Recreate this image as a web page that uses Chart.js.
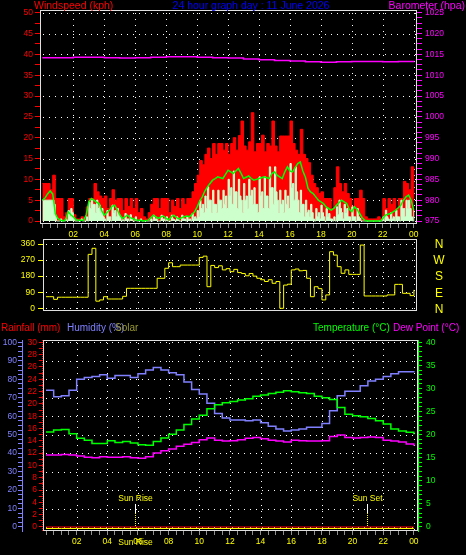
<!DOCTYPE html>
<html>
<head>
<meta charset="utf-8">
<title>24 hour graph</title>
<script src="https://cdn.jsdelivr.net/npm/chart.js@4"></script>
<style>
  html, body { margin: 0; padding: 0; background: #000; }
  body { width: 466px; height: 555px; position: relative; overflow: hidden; }
  canvas { position: absolute; left: 0; }
</style>
</head>
<body>
<canvas id="wind" width="466" height="240" style="top:0"></canvas>
<canvas id="dir" width="466" height="82" style="top:236px"></canvas>
<canvas id="thermo" width="466" height="239" style="top:316px"></canvas>
<script>
  "use strict";

  // hours shown on the time axis
  var hourTicks = [2, 4, 6, 8, 10, 12, 14, 16, 18, 20, 22, 24];
  var hourLabels = ['02', '04', '06', '08', '10', '12', '14', '16', '18', '20', '22', '00'];

  // wind gust, one reading every 10 minutes (kph)
  var windGust = [
    9, 9, 9, 7.5, 11, 5.4, 5.4, 5.4, 1, 2, 5.4, 5.4,
    1.5, 0.5, 0.5, 1, 0.5, 3.4, 5.4, 5.4, 9, 7, 6, 5.4,
    6, 3, 5.4, 7.5, 5, 5.4, 5.4, 2.5, 5.4, 3.5, 5.4, 3,
    5.4, 2, 3, 1, 0.5, 2, 4, 5.4, 5.4, 3, 5.4, 5.4,
    5.4, 2, 5, 3.5, 5.4, 3, 5.4, 4, 5.4, 5.4, 7, 9,
    11, 14.5, 13.5, 16, 17.5, 15, 18.6, 16, 18.6, 18.6, 17, 18.6,
    16, 18.6, 20, 17, 20.5, 24, 18, 17, 19, 26, 16.6, 18.6,
    18.6, 20.6, 16.6, 18.6, 18, 24, 18, 16.6, 20.4, 20.4, 20.4, 20.4,
    24, 18.6, 17, 16, 22, 16, 15, 14, 11, 9, 8, 6.6,
    7, 5.4, 5.4, 5.4, 3, 8, 13, 9, 7, 9, 6.6, 5.4,
    3.5, 5.4, 5.4, 7.4, 5.4, 1, 0.5, 0.5, 0.5, 0.5, 1, 0.5,
    5.4, 3, 5.4, 4, 5.4, 3, 5.4, 5.4, 9.5, 9, 7.5, 13,
    5.4
  ];
  // wind speed, one reading every 5 minutes (kph)
  var windSpeed = [
    5, 5, 5, 5, 5, 5, 5, 5, 5, 4, 1, 0,
    0, 0, 0.5, 0, 0, 0, 0.5, 0, 2.5, 1, 3, 2,
    0.5, 0, 0, 0, 0, 0, 0.5, 0, 0, 0, 1, 0,
    4.5, 3, 5, 4, 4, 2, 5, 3, 3.8, 2, 3, 1,
    0.5, 0, 2.5, 1, 1, 0, 3.8, 2, 2.5, 1, 3, 1.5,
    1, 0, 0.3, 0, 1.8, 0.5, 0.5, 0, 1.5, 0.5, 0, 0,
    1, 0, 0, 0, 0.5, 0, 0, 0, 0, 0, 0, 0,
    0.5, 0, 1.4, 0.5, 0.5, 0, 0, 0, 1.4, 0.5, 0.5, 0,
    1, 0, 0, 0, 1.4, 0.5, 0.3, 0, 1, 0.3, 0, 0,
    1.4, 0.5, 0.5, 0, 1, 0.3, 0.5, 0, 1.8, 0.5, 1, 0.5,
    2.5, 1, 5, 3, 4, 2, 6, 3, 8.2, 5, 5, 2,
    7.4, 4, 4, 2, 7.4, 5, 5, 3, 7.4, 4, 6, 3,
    10, 6, 8, 4, 12, 7, 7, 3, 10, 6, 5, 2,
    9, 5, 6, 3, 10, 6, 7.4, 4, 8, 4, 4, 2,
    10.6, 6, 7, 3, 10.6, 6, 6, 3, 13, 8, 8, 4,
    13, 7, 5, 2, 7.4, 4, 5, 2, 7.4, 4, 6, 3,
    13.8, 8, 9, 5, 13, 7, 5, 2, 7.4, 4, 4, 1,
    5, 2, 2.6, 1, 4, 2, 0.5, 0, 3, 1, 2, 0.5,
    3.8, 2, 1, 0, 3, 1, 1.8, 0.5, 0.5, 0, 1, 0,
    3.4, 1.5, 5, 3, 2, 0.5, 4, 2, 3, 1, 1, 0,
    3.4, 1, 1, 0, 3, 1, 0.6, 0, 0, 0, 0, 0,
    0, 0, 0, 0, 0, 0, 0, 0, 0, 0, 0, 0,
    1, 0, 2.6, 1, 0.5, 0, 2, 0.5, 1, 0, 2.6, 1,
    1, 0, 5, 3, 3, 1, 5, 3, 5, 3, 1, 0,
    2.6
  ];
  // 10 minute average, one reading every 10 minutes (kph)
  var windTenMin = [
    5, 5.5, 6.5, 7.2, 6.5, 1.8, 0.6, 0.2, 0, 0.3, 2.2, 1.5,
    1, 0.3, 0.2, 0.2, 0.2, 1.5, 4.6, 5.4, 5, 4.5, 4.2, 2.5,
    1.4, 2, 2.6, 3.5, 3.8, 2.8, 1.5, 0.6, 1, 1.4, 0.8, 0.6,
    0.3, 0.2, 0.2, 0, 0.1, 0.2, 0.8, 1.4, 1, 0.6, 1, 1.2,
    0.6, 0.3, 1, 1.4, 0.8, 0.5, 0.8, 1, 1.2, 1, 1.6, 2.2,
    3.4, 4.8, 5.8, 7.2, 8.2, 9, 9.8, 10.2, 10.6, 10.4, 10.2, 11.2,
    12.2, 11.8, 11.4, 12, 12.6, 11.5, 10.2, 10.5, 10.8, 10.2, 9.8, 10,
    10.2, 10.4, 10.6, 10.4, 10.2, 11.4, 11.8, 11, 10.6, 10.2, 11.8, 13,
    12, 11.8, 12.8, 13.8, 14.2, 12, 10.5, 7.8, 7, 6.6, 5.8, 5,
    4.6, 4.2, 3.4, 3, 2.6, 3, 3.8, 4.4, 5, 4.6, 4.2, 2.8,
    2.2, 3.4, 2.8, 1.8, 0.8, 0.2, 0, 0, 0, 0, 0, 0,
    0.6, 1.4, 1.6, 1.8, 2.2, 2.6, 3.2, 3.8, 5, 5.8, 6.2, 5,
    2.6
  ];
  // barometer, hourly (hPa)
  var barometer = [
    1014.2, 1014.2, 1014.3, 1014.3, 1014.2, 1014.1, 1014.2, 1014.3, 1014.4, 1014.4,
    1014.3, 1014.2, 1014.1, 1013.9, 1013.7, 1013.5, 1013.4, 1013.2, 1013.1, 1013.2,
    1013.3, 1013.3, 1013.2, 1013.3, 1013.1
  ];

  // wind direction, one reading every 15 minutes (degrees)
  var windDir = [
    65, 65, 50, 62, 62, 62, 62, 62,
    62, 62, 62, 302, 336, 40, 47, 65,
    52, 52, 52, 52, 67, 112, 112, 112,
    112, 112, 112, 112, 112, 168, 168, 224,
    255, 233, 233, 242, 242, 242, 242, 242,
    285, 292, 121, 240, 228, 238, 215, 222,
    205, 218, 200, 195, 182, 195, 180, 168,
    160, 150, 160, 140, 150, 0, 130, 135,
    215, 220, 210, 212, 168, 65, 121, 110,
    47, 75, 317, 298, 233, 196, 215, 190,
    190, 190, 354, 69, 69, 69, 69, 69,
    69, 75, 75, 134, 134, 84, 84, 71,
    103
  ];
  var dirTicks = [0, 90, 180, 270, 360];
  var dirLetters = ['N', 'E', 'S', 'W', 'N'];

  // half hourly readings
  var humidity = [
    74, 70.5, 71, 74, 80, 81, 81.5, 82.5,
    80.5, 82, 82, 81, 83, 85, 86.3, 85,
    83.5, 82.5, 78.5, 74.5, 72, 67, 61.5, 59,
    58, 58, 57.5, 58, 56.5, 54.5, 53, 52,
    52.5, 53, 54, 54, 56, 63, 71, 73.5,
    73.5, 76.5, 79, 80, 81.5, 83, 84, 84,
    84.5
  ];
  var temperature = [
    20.6, 21, 21.1, 20.2, 19.2, 18.8, 18.1, 18.1,
    18.7, 18.3, 18.5, 18.2, 17.8, 17.7, 18.5, 19.3,
    20.1, 21, 22.2, 23.4, 24.2, 25.6, 26.5, 26.9,
    27.2, 27.5, 27.8, 28.3, 28.6, 28.9, 29.2, 29.5,
    29.3, 29.1, 28.9, 28.3, 28, 27.6, 25.9, 24.4,
    24.1, 23.9, 23.5, 23, 22.3, 21.2, 20.8, 20.5,
    20.1
  ];
  var dewPoint = [
    15.6, 15.6, 15.7, 15.6, 15.4, 15.1, 15.0, 15.2,
    15.1, 15.1, 15.2, 15.0, 14.9, 15.2, 16.0, 16.5,
    16.9, 17.5, 17.9, 18.3, 18.9, 19.3, 18.8, 18.6,
    18.7, 18.9, 19.2, 19.4, 19.1, 18.8, 18.6, 18.4,
    18.8, 18.7, 18.6, 18.6, 18.7, 19.6, 19.9, 19.4,
    19.3, 19.4, 19.5, 19.4, 18.8, 18.6, 18.4, 18.0,
    17.6
  ];
  // hourly
  var rainfall = [0, 0, 0, 0, 0, 0, 0, 0, 0, 0, 0, 0, 0, 0, 0, 0, 0, 0, 0, 0, 0, 0, 0, 0, 0];
  var solar = [0, 0, 0, 0, 0, 0, 0, 0, 0, 0, 0, 0, 0, 0, 0, 0, 0, 0, 0, 0, 0, 0, 0, 0, 0];

  var windTicks = [0, 5, 10, 15, 20, 25, 30, 35, 40, 45, 50];
  var baroTicks = [975, 980, 985, 990, 995, 1000, 1005, 1010, 1015, 1020, 1025];
  var humTicks = [0, 10, 20, 30, 40, 50, 60, 70, 80, 90, 100];
  var rainTicks = [0, 2, 4, 6, 8, 10, 12, 14, 16, 18, 20, 22, 24, 26, 28, 30];
  var tempTicks = [0, 5, 10, 15, 20, 25, 30, 35, 40];

  var sunTimes = [5.8, 20.92];
  var sunLabels = ['Sun Rise', 'Sun Set'];

  Chart.defaults.font.family = 'Liberation Sans';
  var tickFont = { family: 'Liberation Sans', size: 8.5 };

  var series = function(values, step) {
    return values.map(function(v, i) { return { x: i * step, y: v }; });
  };

  var withMinor = function(majors, parts) {
    var out = [];
    majors.forEach(function(m, i) {
      out.push({ value: m });
      if (i < majors.length - 1) {
        for (var k = 1; k < parts; k++) {
          out.push({ value: m + (majors[i + 1] - m) * k / parts });
        }
      }
    });
    return out;
  };

  var majorOnly = function(list) {
    return function(v) { return list.indexOf(v) >= 0 ? String(v) : ''; };
  };

  var hourLabel = function(v) {
    var i = hourTicks.indexOf(v);
    return i < 0 ? '' : hourLabels[i];
  };

  var halfHours = function(s) {
    s.ticks = [];
    for (var h = 0; h <= 24; h += 0.5) s.ticks.push({ value: h });
  };

  var fixWidth = function(w) {
    return function(s) { s.width = w; s.paddingTop = 0; s.paddingBottom = 0; };
  };
  var fixHeight = function(h) {
    return function(s) { s.height = h; s.paddingLeft = 0; s.paddingRight = 0; };
  };

  var yAxis = function(pos, min, max, majors, parts, color, width, tickLen, pad) {
    return {
      position: pos, min: min, max: max,
      afterBuildTicks: function(s) { s.ticks = withMinor(majors, parts); },
      afterFit: fixWidth(width),
      grid: { drawOnChartArea: false, color: color, tickLength: tickLen },
      border: { display: false },
      ticks: { color: color, font: tickFont, padding: pad, autoSkip: false, callback: majorOnly(majors) }
    };
  };

  var timeAxis = function(min, max, height) {
    return {
      type: 'linear', min: min, max: max,
      afterBuildTicks: halfHours,
      afterFit: fixHeight(height),
      grid: { drawOnChartArea: false, color: '#909090', tickLength: 4 },
      border: { display: false },
      ticks: { color: '#ffff00', font: tickFont, padding: 2, autoSkip: false, maxRotation: 0, minRotation: 0, callback: hourLabel }
    };
  };

  var drawTexts = function(ctx, items, font) {
    ctx.save();
    ctx.font = font;
    ctx.textBaseline = 'alphabetic';
    items.forEach(function(it) {
      ctx.fillStyle = it.c;
      ctx.textAlign = it.a || 'left';
      ctx.fillText(it.t, it.x, it.y);
    });
    ctx.restore();
  };

  // dotted grid behind the data, frame and extras on top
  var makeDeco = function(cfg) {
    return {
      id: 'deco',
      beforeDatasetsDraw: function(chart) {
        var ctx = chart.ctx, a = chart.chartArea;
        var xs = chart.scales.x, ys = chart.scales[cfg.gridScale];
        ctx.save();
        ctx.fillStyle = '#ffffff';
        cfg.gridValues.forEach(function(v) {
          var y = Math.round(ys.getPixelForValue(v));
          if (y <= a.top || y >= a.bottom) return;
          for (var x = a.left + 3; x < a.right - 1; x += 6) ctx.fillRect(x, y, 1, 1);
        });
        hourTicks.forEach(function(h) {
          var x = Math.round(xs.getPixelForValue(h));
          for (var y = a.top + 3; y < a.bottom - 1; y += 6) ctx.fillRect(x, y, 1, 1);
        });
        ctx.restore();
      },
      afterDatasetsDraw: function(chart) {
        var ctx = chart.ctx, a = chart.chartArea;
        ctx.save();
        ctx.strokeStyle = '#e0e0e0';
        ctx.lineWidth = 1;
        ctx.strokeRect(a.left + 0.5, a.top + 0.5, a.width - 1, a.height - 1);
        ctx.restore();
      },
      afterDraw: function(chart) {
        if (cfg.extra) cfg.extra(chart);
      }
    };
  };

  var baseOptions = function(padding) {
    return {
      responsive: false,
      animation: false,
      devicePixelRatio: 1,
      events: [],
      layout: { padding: padding, autoPadding: false },
      plugins: { legend: { display: false }, tooltip: { enabled: false } }
    };
  };

  // wind speed + barometer
  var windOpts = baseOptions({ top: 10, left: 0, right: 0, bottom: 0 });
  windOpts.scales = {
    x: timeAxis(-0.155, 24.21, 16),
    y: yAxis('left', -0.72, 50.65, windTicks, 2, '#ff0000', 40, 5, 2),
    yB: yAxis('right', 974.28, 1025.65, baroTicks, 4, '#ff00ff', 49, 5, 3)
  };
  new Chart(document.getElementById('wind'), {
    type: 'line',
    data: {
      datasets: [
        { label: 'Barometer', data: series(barometer, 1), yAxisID: 'yB', borderColor: '#ff00ff', borderWidth: 1.5, stepped: true, pointRadius: 0, fill: false },
        { label: 'Wind 10 min', data: series(windTenMin, 1 / 6), yAxisID: 'y', borderColor: '#00ff00', borderWidth: 1.5, pointRadius: 0, fill: false },
        { label: 'Wind speed', data: series(windSpeed, 1 / 12), yAxisID: 'y', borderColor: '#ccffcc', backgroundColor: '#ccffcc', borderWidth: 1, stepped: true, pointRadius: 0, fill: 'origin' },
        { label: 'Gust', data: series(windGust, 1 / 6), yAxisID: 'y', borderColor: '#ff0000', backgroundColor: '#ff0000', borderWidth: 1, stepped: true, pointRadius: 0, fill: 'origin' }
      ]
    },
    options: windOpts,
    plugins: [makeDeco({
      gridScale: 'y', gridValues: windTicks,
      extra: function(chart) {
        drawTexts(chart.ctx, [
          { t: 'Windspeed (kph)', x: 34, y: 9, c: '#ff0000' },
          { t: '24 hour graph day : 11 June 2026', x: 251, y: 9, c: '#0000ff', a: 'center' },
          { t: 'Barometer (hpa)', x: 465, y: 9, c: '#ff00ff', a: 'right' }
        ], '10.5px "Liberation Sans"');
      }
    })]
  });

  // wind direction
  var dirOpts = baseOptions({ top: 3, left: 0, right: 49, bottom: 7 });
  dirOpts.scales = {
    x: { type: 'linear', display: false, min: -0.196, max: 24.2 },
    y: yAxis('left', -15.1, 388, dirTicks, 1, '#ffff00', 43, 5, 3)
  };
  new Chart(document.getElementById('dir'), {
    type: 'line',
    data: {
      datasets: [
        { label: 'Direction', data: series(windDir, 0.25), borderColor: '#ffff00', borderWidth: 1, stepped: true, pointRadius: 0, fill: false }
      ]
    },
    options: dirOpts,
    plugins: [makeDeco({
      gridScale: 'y', gridValues: dirTicks,
      extra: function(chart) {
        var ctx = chart.ctx, ys = chart.scales.y;
        ctx.save();
        ctx.font = '12px "Liberation Sans"';
        ctx.fillStyle = '#ffff00';
        ctx.textAlign = 'center';
        ctx.textBaseline = 'middle';
        dirTicks.forEach(function(v, i) {
          ctx.fillText(dirLetters[i], 439, ys.getPixelForValue(v) + 1);
        });
        ctx.restore();
      }
    })]
  });

  // humidity, rain, temperature, dew point
  var thermoOpts = baseOptions({ top: 24, left: 0, right: 0, bottom: 0 });
  var humAxis = yAxis('left', -2.17, 101.25, humTicks, 4, '#8080ff', 22, 4, 1);
  humAxis.weight = 2;
  humAxis.border = { display: true, color: '#8080ff', width: 1 };
  var rainAxis = yAxis('left', -0.651, 30.375, rainTicks, 2, '#ff0000', 21, 4, 2);
  rainAxis.weight = 1;
  var tempAxis = yAxis('right', -0.868, 40.5, tempTicks, 5, '#00ff00', 48, 4, 4);
  tempAxis.border = { display: true, color: '#00ff00', width: 1 };
  thermoOpts.scales = {
    x: timeAxis(-0.196, 24.27, 24),
    yH: humAxis,
    yR: rainAxis,
    yT: tempAxis,
    yS: { display: false, min: -2.5, max: 188.5 }
  };
  new Chart(document.getElementById('thermo'), {
    type: 'line',
    data: {
      datasets: [
        { label: 'Dew Point', data: series(dewPoint, 0.5), yAxisID: 'yT', borderColor: '#ff00ff', borderWidth: 1.5, stepped: true, pointRadius: 0, fill: false },
        { label: 'Temperature', data: series(temperature, 0.5), yAxisID: 'yT', borderColor: '#00ff00', borderWidth: 1.5, stepped: true, pointRadius: 0, fill: false },
        { label: 'Humidity', data: series(humidity, 0.5), yAxisID: 'yH', borderColor: '#8080ff', borderWidth: 1.5, stepped: true, pointRadius: 0, fill: false },
        { label: 'Rainfall', data: series(rainfall, 1), yAxisID: 'yR', borderColor: '#ff0000', borderWidth: 1, pointRadius: 0, fill: false },
        { label: 'Solar', data: series(solar, 1), yAxisID: 'yS', borderColor: '#ffff00', borderWidth: 1, pointRadius: 0, fill: false }
      ]
    },
    options: thermoOpts,
    plugins: [makeDeco({
      gridScale: 'yH', gridValues: humTicks,
      extra: function(chart) {
        var ctx = chart.ctx, a = chart.chartArea, xs = chart.scales.x, yr = chart.scales.yR;
        ctx.save();
        // rain axis line, dotted
        ctx.strokeStyle = '#ff0000';
        ctx.setLineDash([1, 1]);
        ctx.beginPath();
        ctx.moveTo(yr.right - 0.5, a.top);
        ctx.lineTo(yr.right - 0.5, a.bottom);
        ctx.stroke();
        // sun rise / sun set markers
        ctx.font = '8.5px "Liberation Sans"';
        ctx.textAlign = 'center';
        sunTimes.forEach(function(t, i) {
          var x = Math.round(xs.getPixelForValue(t)) + 0.5;
          ctx.setLineDash([]);
          ctx.strokeStyle = '#ffffff';
          ctx.beginPath();
          ctx.moveTo(x, a.bottom - 27);
          ctx.lineTo(x, a.bottom - 18);
          ctx.stroke();
          ctx.setLineDash([1, 1]);
          ctx.strokeStyle = '#ffff00';
          ctx.beginPath();
          ctx.moveTo(x, a.bottom - 18);
          ctx.lineTo(x, a.bottom - 4);
          ctx.stroke();
          ctx.fillStyle = '#ffff00';
          ctx.fillText(sunLabels[i], x, a.bottom - 30);
          if (i === 0) ctx.fillText(sunLabels[i], x, a.bottom + 14);
        });
        ctx.restore();
        drawTexts(ctx, [
          { t: 'Rainfall (mm)', x: 1, y: 15, c: '#ff0000' },
          { t: 'Humidity (%)', x: 67, y: 15, c: '#8080ff' },
          { t: 'Solar', x: 115, y: 15, c: '#999933' },
          { t: 'Temperature (°C)', x: 313, y: 15, c: '#00ff00' },
          { t: 'Dew Point (°C)', x: 393, y: 15, c: '#ff00ff' }
        ], '10px "Liberation Sans"');
      }
    })]
  });
</script>
</body>
</html>
